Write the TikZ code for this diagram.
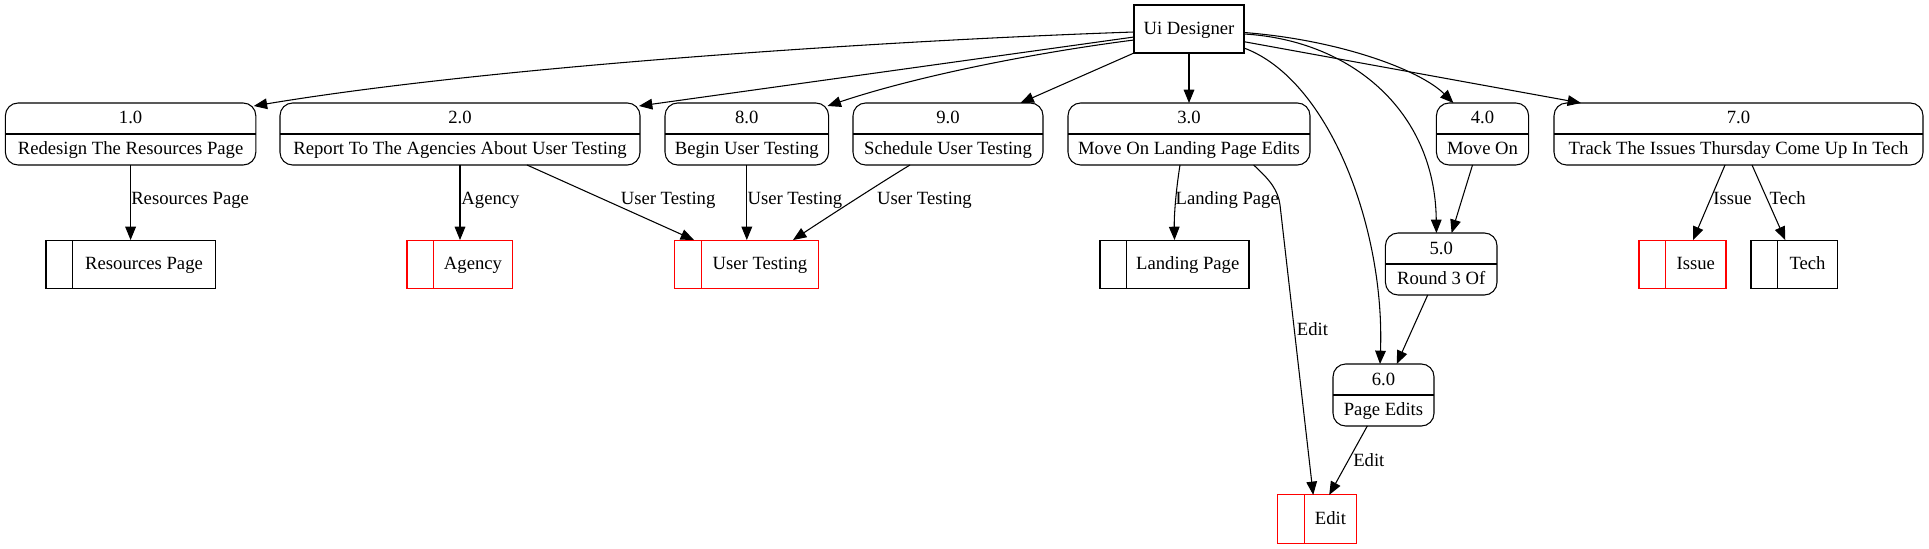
\documentclass[tikz,border=0pt]{standalone}
\usepackage{fontspec}
\setmainfont{Liberation Serif}
\usetikzlibrary{arrows.meta}
\begin{document}
\begin{tikzpicture}[x=0.75pt,y=-0.75pt,
  txt/.style={font=\fontsize{14}{17}\selectfont},
  lbl/.style={txt, inner sep=0pt},
  proc/.style={draw, line width=0.8pt, rounded corners=9.5pt, minimum height=46.5pt,
    inner sep=0pt, outer sep=0pt,
    path picture={\draw[line width=0.8pt] (path picture bounding box.west) -- (path picture bounding box.east);}},
  store/.style={draw=#1, line width=0.8pt, minimum height=36.4pt, inner sep=0pt, outer sep=0pt,
    txt, text height=9.5pt, text depth=1.5pt,
    path picture={\draw[#1, line width=0.8pt] ([xshift=19.9pt]path picture bounding box.north west) -- ([xshift=19.9pt]path picture bounding box.south west);}},
  ext/.style={draw, line width=0.8pt, minimum width=82.5pt, minimum height=36pt, inner sep=0pt, outer sep=0pt,
    txt, text height=9.5pt, text depth=1.5pt},
  flow/.style={line width=0.8pt, -{Triangle[length=10pt,width=8pt]}}
]
\newcommand\procbox[6]{%
  \node[proc, minimum width=#4] (#1) at (#2,#3) {};
  \node[lbl, anchor=base] (#1n) at (#2,#3-10) {#5};
  \node[lbl, anchor=base] (#1t) at (#2,#3+20.5) {#6};}
\useasboundingbox[fill=white] (0,0) rectangle (1929,549);

% external entity
\node[ext] (ui) at (1189,29) {Ui Designer};

% processes
\procbox{p1}{130.6}{134}{187.8pt}{1.0}{Redesign The Resources Page}
\procbox{p2}{460}{134}{270pt}{2.0}{Report To The Agencies About User Testing}
\procbox{p8}{746.8}{134}{122.7pt}{8.0}{Begin User Testing}
\procbox{p9}{948}{134}{142.5pt}{9.0}{Schedule User Testing}
\procbox{p3}{1189}{134}{181.5pt}{3.0}{Move On Landing Page Edits}
\procbox{p4}{1482.5}{134}{69.15pt}{4.0}{Move On}
\procbox{p7}{1738.5}{134}{276.75pt}{7.0}{Track The Issues Thursday Come Up In Tech}
\procbox{p5}{1441.2}{264}{83.7pt}{5.0}{Round 3 Of}
\procbox{p6}{1383.5}{395}{75.75pt}{6.0}{Page Edits}

% data stores
\node[store=black, minimum width=127.2pt] (s1) at (130.8,264.3) {\hspace*{19.9pt}Resources Page};
\node[store=red, minimum width=79.1pt] (sa) at (459.75,264.3) {\hspace*{19.9pt}Agency};
\node[store=red, minimum width=108.2pt] (sut) at (746.65,264.3) {\hspace*{19.9pt}User Testing};
\node[store=black, minimum width=111.75pt] (slp) at (1174.5,264.3) {\hspace*{19.9pt}Landing Page};
\node[store=red, minimum width=65.25pt] (sis) at (1682.5,264.3) {\hspace*{19.9pt}Issue};
\node[store=black, minimum width=64.9pt] (ste) at (1794.25,264.3) {\hspace*{19.9pt}Tech};
\node[store=red, minimum width=59.25pt] (sed) at (1317.2,519.2) {\hspace*{19.9pt}Edit};

% flows from Ui Designer
\draw[flow] ([shift={(0,27)}]ui.north west) .. controls (900,40) and (500,65) .. ([shift={(-2,3)}]p1.north east);
\draw[flow] ([shift={(0,32)}]ui.north west) -- ([shift={(-1,3)}]p2.north east);
\draw[flow] ([shift={(0,35)}]ui.north west) .. controls (1040,52) and (920,75) .. ([shift={(-1,3)}]p8.north east);
\draw[flow] (ui.south west) -- ([shift={(72.5,0)}]p9.north);
\draw[flow] (ui.south) -- (p3.north);
\draw[flow] ([shift={(0,27.5)}]ui.north east) .. controls (1340,40) and (1420,70) .. ([shift={(17,0)}]p4.north west);
\draw[flow] ([shift={(0,36.7)}]ui.north east) -- ([shift={(27,0)}]p7.north west);
\draw[flow] ([shift={(0,29)}]ui.north east) .. controls (1350,40) and (1435,110) .. ([shift={(51,0)}]p5.north west);
\draw[flow] ([shift={(0,43)}]ui.north east) .. controls (1330,80) and (1385,230) .. ([shift={(47,0)}]p6.north west);

% flows to stores and between processes
\draw[flow] (p1.south) -- (p1.south |- s1.north);
\draw[flow] (p2.south) -- (p2.south |- sa.north);
\draw[flow] ([shift={(67,0)}]p2.south) -- ([shift={(19.5,0)}]sut.north west);
\draw[flow] (p8.south) -- (p8.south |- sut.north);
\draw[flow] ([shift={(-38,0)}]p9.south) .. controls (885,180) and (820,222) .. ([shift={(46.35,0)}]sut.north);
\draw[flow] ([shift={(-9,0)}]p3.south) .. controls (1176,190) and (1174,215) .. (slp.north);
\coordinate (bend3) at (1280,205);
\draw[flow] ([shift={(64.6,0)}]p3.south) .. controls (1270,180) and (1278,190) .. (bend3) -- ([shift={(-4,0)}]sed.north);
\draw[flow] ([shift={(-10,0)}]p4.south) -- ([shift={(10.4,0)}]p5.north);
\draw[flow] ([shift={(-13.5,0)}]p5.south) -- ([shift={(13.2,0)}]p6.north);
\draw[flow] ([shift={(-16.2,0)}]p6.south) -- ([shift={(12,0)}]sed.north);
\draw[flow] ([shift={(-13.5,0)}]p7.south) -- ([shift={(10.5,0)}]sis.north);
\draw[flow] ([shift={(13.5,0)}]p7.south) -- ([shift={(-9,0)}]ste.north);

% flow labels
\node[lbl, anchor=base west] (l1) at (131,204) {Resources Page};
\node[lbl, anchor=base west] (l2) at (461.2,204) {Agency};
\node[lbl, anchor=base west] (l3) at (620.5,204) {User Testing};
\node[lbl, anchor=base west] (l4) at (747.3,204) {User Testing};
\node[lbl, anchor=base west] (l5) at (876.8,204) {User Testing};
\node[lbl, anchor=base west] (l6) at (1175.4,204) {Landing Page};
\node[lbl, anchor=base west] (l7) at (1296.7,335) {Edit};
\node[lbl, anchor=base west] (l8) at (1353,466) {Edit};
\node[lbl, anchor=base west] (l9) at (1713,204) {Issue};
\node[lbl, anchor=base west] (l10) at (1769.3,204) {Tech};
\end{tikzpicture}
\end{document}
